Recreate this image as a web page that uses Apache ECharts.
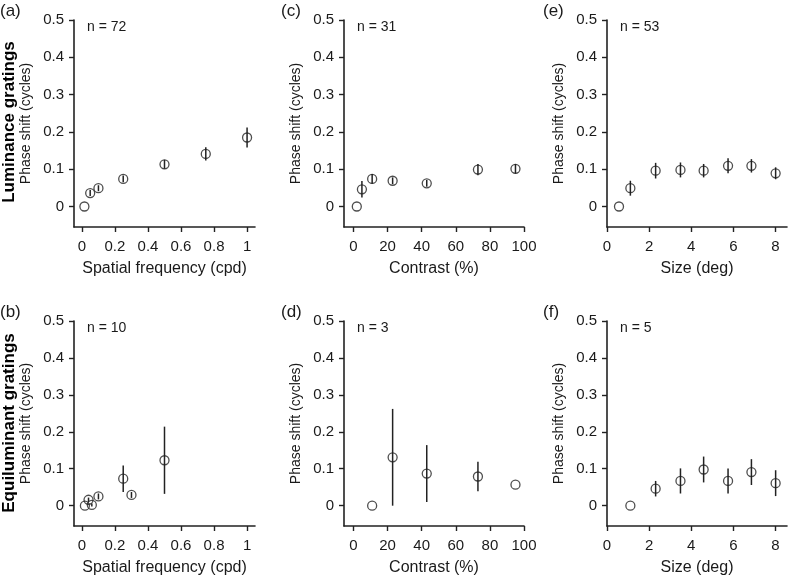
<!DOCTYPE html>
<html><head><meta charset="utf-8">
<script src="https://cdn.jsdelivr.net/npm/echarts@6/dist/echarts.min.js"></script>
<style>html,body{margin:0;padding:0;background:#fff}#c{width:788px;height:577px}</style>
</head><body><div id="c"></div>
<script>
// ---- tick labels ----
const yTicks = [0, 0.1, 0.2, 0.3, 0.4, 0.5];
const sfTicks = [0, 0.2, 0.4, 0.6, 0.8, 1];
const contrastTicks = [0, 20, 40, 60, 80, 100];
const sizeTicks = [0, 2, 4, 6, 8];

// ---- (a) luminance, spatial frequency ----
const aX = [0.015, 0.05, 0.1, 0.25, 0.5, 0.75, 1.0];
const aY = [0, 0.036, 0.049, 0.074, 0.113, 0.141, 0.185];
const aErr = [0, 0.008, 0.008, 0.009, 0.012, 0.018, 0.027];
// ---- (b) equiluminant, spatial frequency ----
const bX = [0.018, 0.04, 0.06, 0.1, 0.25, 0.3, 0.5];
const bY = [0, 0.016, 0.002, 0.025, 0.073, 0.029, 0.123];
const bErr = [0, 0.006, 0.004, 0.008, 0.036, 0.008, 0.091];
// ---- (c) luminance, contrast ----
const cX = [2, 5, 11, 23, 43, 73, 95];
const cY = [0, 0.046, 0.074, 0.069, 0.062, 0.099, 0.101];
const cErr = [0, 0.022, 0.013, 0.009, 0.009, 0.015, 0.013];
// ---- (d) equiluminant, contrast ----
const dX = [11, 23, 43, 73, 95];
const dY = [0, 0.131, 0.087, 0.079, 0.057];
const dErr = [0, 0.131, 0.077, 0.04, 0];
// ---- (e) luminance, size ----
const eX = [0.57, 1.11, 2.31, 3.49, 4.59, 5.75, 6.86, 8.01];
const eY = [0, 0.049, 0.096, 0.098, 0.096, 0.109, 0.109, 0.089];
const eErr = [0, 0.02, 0.021, 0.02, 0.018, 0.02, 0.018, 0.016];
// ---- (f) equiluminant, size ----
const fX = [1.11, 2.31, 3.49, 4.59, 5.75, 6.86, 8.01];
const fY = [0, 0.046, 0.067, 0.098, 0.067, 0.091, 0.061];
const fErr = [0, 0.021, 0.034, 0.035, 0.034, 0.035, 0.035];

// ---- texts ----
const panelLabels = ['(a)', '(b)', '(c)', '(d)', '(e)', '(f)'];
const nLabels = ['n = 72', 'n = 10', 'n = 31', 'n = 3', 'n = 53', 'n = 5'];
const rowLabels = ['Luminance gratings', 'Equiluminant gratings'];
const yName = 'Phase shift (cycles)';
const xNames = ['Spatial frequency (cpd)', 'Contrast (%)', 'Size (deg)'];

const FONT = "'Liberation Sans', Arial, Helvetica, sans-serif";
const INK = '#1a1a1a';
const LINE = '#222';

const panels = [
  {x: aX, y: aY, e: aErr, col: 0, row: 0},
  {x: bX, y: bY, e: bErr, col: 0, row: 1},
  {x: cX, y: cY, e: cErr, col: 1, row: 0},
  {x: dX, y: dY, e: dErr, col: 1, row: 1},
  {x: eX, y: eY, e: eErr, col: 2, row: 0},
  {x: fX, y: fY, e: fErr, col: 2, row: 1}
];
const colCfg = [
  {left: 74, width: 181, min: -0.048, max: 1.048, ticks: sfTicks, name: xNames[0]},
  {left: 344, width: 180, min: -5.5, max: 100, ticks: contrastTicks, name: xNames[1]},
  {left: 607, width: 180, min: 0, max: 8.55, ticks: sizeTicks, name: xNames[2]}
];
const rowCfg = [{top: 20, height: 207}, {top: 321, height: 206}];

const grids = [], xAxes = [], yAxes = [], series = [], graphics = [];
panels.forEach((p, i) => {
  const cc = colCfg[p.col], rc = rowCfg[p.row];
  grids.push({left: cc.left, top: rc.top, width: cc.width, height: rc.height, containLabel: false});
  xAxes.push({
    type: 'value', gridIndex: i, min: cc.min, max: cc.max,
    name: cc.name, nameLocation: 'middle', nameGap: 34,
    nameTextStyle: {fontFamily: FONT, fontSize: 16, color: INK},
    axisLine: {show: true, onZero: false, lineStyle: {color: LINE, width: 1.6}},
    axisTick: {show: true, length: 5, lineStyle: {color: LINE, width: 1.4}, customValues: cc.ticks},
    axisLabel: {fontFamily: FONT, fontSize: 15, color: INK, margin: 12, customValues: cc.ticks},
    splitLine: {show: false}
  });
  yAxes.push({
    type: 'value', gridIndex: i, min: -0.055, max: 0.5,
    name: yName, nameLocation: 'middle', nameGap: 41,
    nameTextStyle: {fontFamily: FONT, fontSize: 14, color: INK},
    axisLine: {show: true, onZero: false, lineStyle: {color: LINE, width: 1.6}},
    axisTick: {show: true, length: 5, lineStyle: {color: LINE, width: 1.4}, customValues: yTicks},
    axisLabel: {fontFamily: FONT, fontSize: 15, color: INK, margin: 10, customValues: yTicks},
    splitLine: {show: false}
  });
  const data = p.x.map((xv, k) => [xv, p.y[k], p.e[k]]);
  series.push({
    type: 'custom', xAxisIndex: i, yAxisIndex: i, data: data,
    encode: {x: 0, y: 1}, z: 3, silent: true,
    renderItem: function (params, api) {
      const xv = api.value(0), yv = api.value(1), ev = api.value(2);
      if (!ev) return null;
      const p1 = api.coord([xv, yv - ev]);
      const p2 = api.coord([xv, yv + ev]);
      return {type: 'line', shape: {x1: p1[0], y1: p1[1], x2: p2[0], y2: p2[1]},
              style: {stroke: LINE, lineWidth: 1.5}};
    }
  });
  series.push({
    type: 'scatter', xAxisIndex: i, yAxisIndex: i, data: data.map(d => [d[0], d[1]]),
    symbol: 'circle', symbolSize: 9, z: 4, silent: true,
    itemStyle: {color: 'rgba(0,0,0,0)', borderColor: LINE, borderWidth: 1.3}
  });
  // panel letter
  graphics.push({type: 'text', x: [0, 281, 543][p.col], y: rc.top - 9,
    style: {text: panelLabels[i], fontFamily: FONT, fontSize: 17, fill: INK,
            textVerticalAlign: 'middle', verticalAlign: 'middle'}});
  // n label
  graphics.push({type: 'text', x: cc.left + 13, y: rc.top + 7,
    style: {text: nLabels[i], fontFamily: FONT, fontSize: 14, fill: INK,
            textVerticalAlign: 'middle', verticalAlign: 'middle'}});
});
rowLabels.forEach((t, r) => {
  graphics.push({type: 'text', x: 9, y: [122, 423][r], rotation: Math.PI / 2,
    style: {text: t, fontFamily: FONT, fontSize: 17, fontWeight: 'bold', fill: '#000',
            textAlign: 'center', align: 'center', textVerticalAlign: 'middle', verticalAlign: 'middle'}});
});

const chart = echarts.init(document.getElementById('c'), null, {renderer: 'canvas'});
chart.setOption({
  animation: false,
  backgroundColor: '#fff',
  grid: grids, xAxis: xAxes, yAxis: yAxes, series: series,
  graphic: graphics
});
</script>
</body></html>
